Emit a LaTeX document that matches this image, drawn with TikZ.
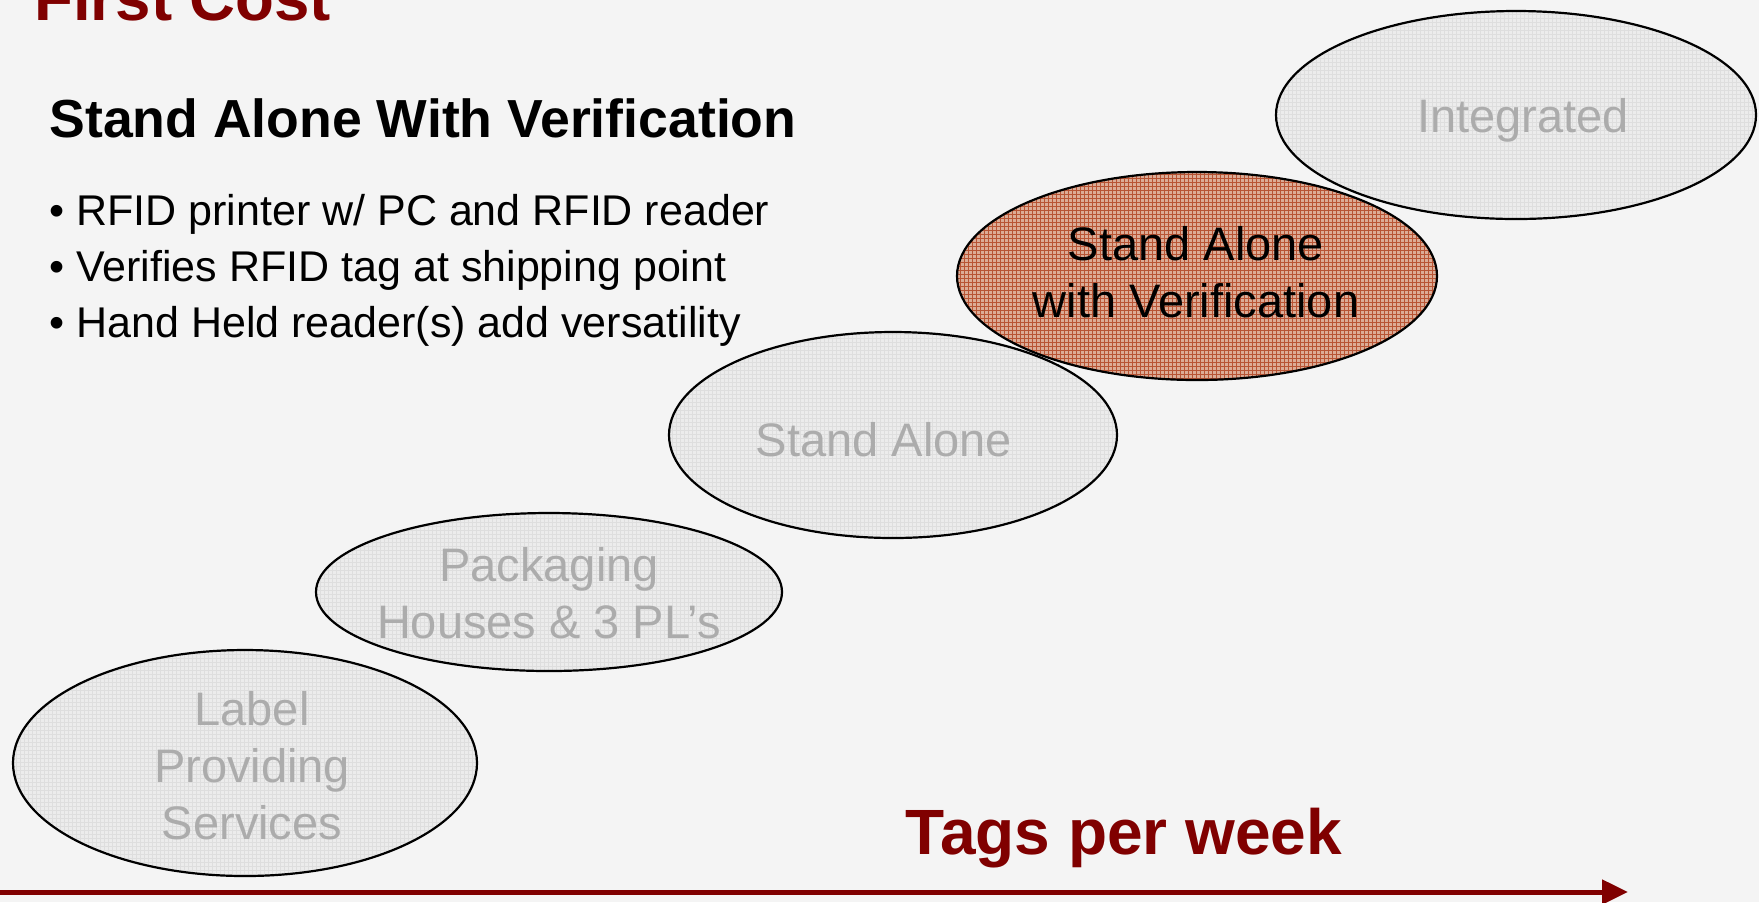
\documentclass[tikz,border=0pt]{standalone}
\usepackage{fontspec}
\setmainfont{Liberation Sans}
\usepackage{tikz}
\usetikzlibrary{shapes.geometric}
\usetikzlibrary{patterns.meta}
\usetikzlibrary{arrows.meta}
\definecolor{darkred}{RGB}{128,0,0}
\definecolor{paper}{RGB}{244,244,244}
\definecolor{stagefill}{RGB}{236,236,236}
\definecolor{stagegrid}{RGB}{222,222,222}
\definecolor{stagetext}{RGB}{172,172,172}
\definecolor{activefill}{RGB}{220,172,150}
\definecolor{activegrid}{RGB}{184,84,52}
\newcommand{\stagefont}{\fontsize{23.5}{28.5}\selectfont}
\newcommand{\bulletfont}{\fontsize{21.5}{26}\selectfont}
\tikzstyle{stage}=[ellipse, draw=black, line width=1.1pt, inner sep=0,
                   preaction={fill=stagefill},
                   preaction={pattern={Hatch[distance=2pt, angle=0, line width=0.15pt]}, pattern color=stagegrid}]
\tikzstyle{activestage}=[ellipse, draw=black, line width=1.1pt, inner sep=0,
                   preaction={fill=activefill},
                   preaction={pattern={Hatch[distance=2pt, angle=0, line width=0.2pt]}, pattern color=activegrid}]
\tikzstyle{stagelabel}=[align=center, inner sep=0, text=stagetext, font=\stagefont]
\tikzstyle{bulletline}=[anchor=base west, inner sep=0, font=\bulletfont]

\begin{document}
\begin{tikzpicture}[x=0.5pt, y=-0.5pt]
        \useasboundingbox (0, 0) rectangle (1759, 902);
        \fill[paper] (0, 0) rectangle (1759, 902);
        % Heading and bullets.
        \node[anchor=base west, inner sep=0, text=darkred, font=\fontsize{31.8}{36}\selectfont\bfseries] (title) at (34, 20) {First Cost};
        \node[anchor=base west, inner sep=0, font=\fontsize{26.8}{30}\selectfont\bfseries] (subtitle) at (49, 137) {Stand Alone With Verification};
        \node[bulletline] (b1) at (49, 225) {• RFID printer w/ PC and RFID reader};
        \node[bulletline] (b2) at (49, 281) {• Verifies RFID tag at shipping point};
        \node[bulletline] (b3) at (49, 337) {• Hand Held reader(s) add versatility};
        % Stages, from the bottom left up.
        \node[stage, minimum width=232pt, minimum height=113pt] (label) at (245, 763) {};
        \node[stage, minimum width=233pt, minimum height=79pt] (packaging) at (549, 592) {};
        \node[stage, minimum width=224pt, minimum height=103pt] (standalone) at (893, 435) {};
        \node[activestage, minimum width=240pt, minimum height=104pt] (verification) at (1197, 276) {};
        \node[stage, minimum width=240pt, minimum height=104pt] (integrated) at (1516, 115) {};
        \node[stagelabel] (labeltext) at (252, 766) {Label\\Providing\\Services};
        \node[stagelabel] (packagingtext) at (549, 593) {Packaging\\Houses \& 3 PL’s};
        \node[stagelabel] (standalonetext) at (884, 440) {Stand Alone};
        \node[stagelabel, text=black] (verificationtext) at (1196, 272) {Stand Alone\\with Verification};
        \node[stagelabel] (integratedtext) at (1523, 120) {Integrated};
        % Axis.
        \node[anchor=base, inner sep=0, text=darkred, font=\fontsize{32}{36}\selectfont\bfseries] (axislabel) at (1124, 854) {Tags per week};
        \coordinate (axisstart) at (0, 892);
        \coordinate (axisend) at (1628, 892);
        \draw[darkred, line width=2.5pt, -{Triangle[length=13pt, width=12pt]}] (axisstart) -- (axisend);
    \end{tikzpicture}
\end{document}
